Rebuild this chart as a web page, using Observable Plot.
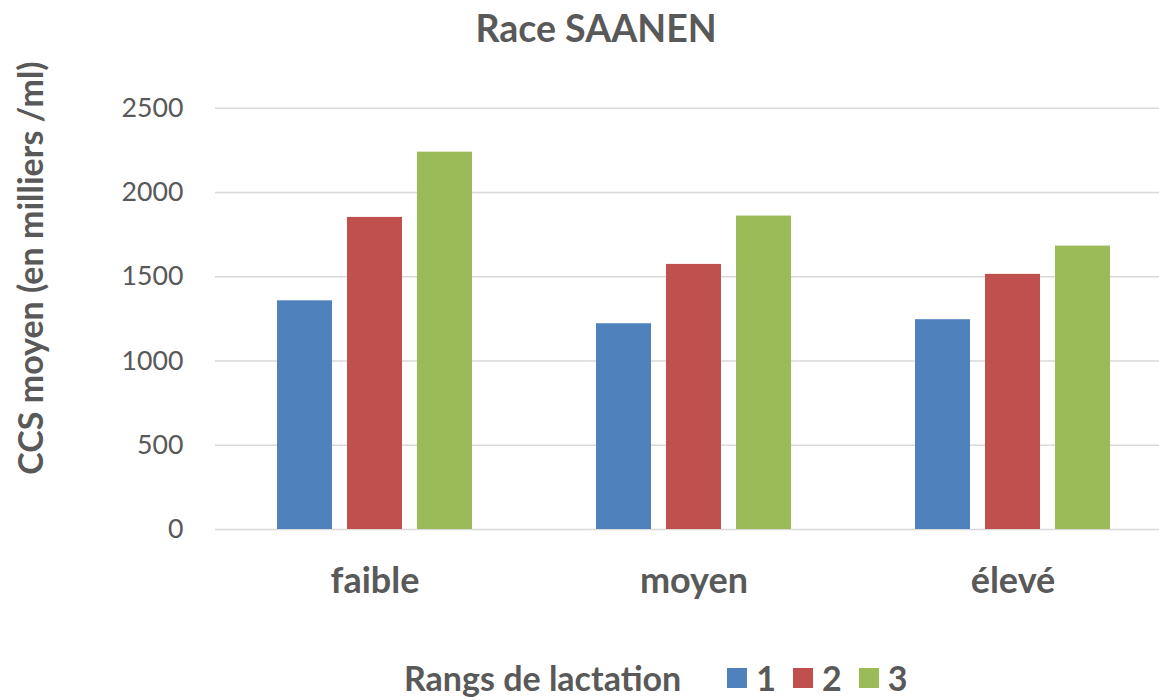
<!DOCTYPE html>
<html><head><meta charset="utf-8">
<script src="https://cdn.jsdelivr.net/npm/d3@7"></script>
<script src="https://cdn.jsdelivr.net/npm/@observablehq/plot@0.6"></script>
<style>
body{margin:0;width:1159px;height:700px;overflow:hidden;background:#fff;position:relative;font-family:Lato,sans-serif;color:#595959}
.abs{position:absolute;white-space:nowrap;line-height:1}
</style></head><body>
<div id="title" class="abs" style="left:596px;top:28px;transform:translate(-50%,-50%);font-size:37.5px;font-weight:bold">Race SAANEN</div>
<div id="ylabel" class="abs" style="left:30px;top:268px;transform:translate(-50%,-50%) rotate(-90deg);font-size:34px;font-weight:bold">CCS moyen (en milliers /ml)</div>
<div id="chart" style="position:absolute;left:0;top:60px"></div>
<div id="legend" class="abs" style="left:404px;top:678px;transform:translateY(-50%);font-size:34px;font-weight:bold;display:flex;align-items:center"></div>
<script>
const categories = ["faible", "moyen", "élevé"];
const ranks = ["1", "2", "3"];
const rank1 = [1357, 1221, 1245];
const rank2 = [1852, 1573, 1514];
const rank3 = [2239, 1860, 1682];
const colors = ["#4F81BD", "#C0504D", "#9BBB59"];
const yTicks = [0, 500, 1000, 1500, 2000, 2500];
const legendTitle = "Rangs de lactation";

const series = [rank1, rank2, rank3];
const data = categories.flatMap((c, i) => ranks.map((r, j) => ({category: c, rank: r, value: series[j][i]})));

const chart = Plot.plot({
  width: 1172, height: 580,
  marginLeft: 215, marginRight: 0, marginTop: 47.7, marginBottom: 111,
  style: {fontFamily: "Lato, sans-serif", color: "#595959", background: "transparent", overflow: "visible", maxWidth: "none"},
  fx: {domain: categories, padding: 0, label: null, axis: "bottom", tickSize: 0, tickPadding: 38},
  x: {domain: ranks, paddingInner: 0.213, paddingOuter: 0.867, axis: null},
  y: {domain: [0, 2500], ticks: yTicks, tickSize: 0, tickPadding: 32, label: null, tickFormat: d => String(d)},
  color: {domain: ranks, range: colors},
  marks: [
    Plot.ruleY(yTicks, {stroke: "#d9d9d9", strokeWidth: 1.5}),
    Plot.barY(data, {fx: "category", x: "rank", y: "value", fill: "rank"})
  ]
});
document.getElementById("chart").appendChild(chart);
const ytickStr = yTicks.map(String);
d3.select(chart).selectAll("text").each(function() {
  const t = this.textContent;
  if (categories.includes(t)) {
    this.style.fontSize = "36px"; this.style.fontWeight = "bold"; this.style.fill = "#595959";
  } else if (ytickStr.includes(t)) {
    this.style.fontSize = "26.7px"; this.style.fill = "#595959";
  }
});

const legend = document.getElementById("legend");
const lt = document.createElement("span");
lt.textContent = legendTitle;
lt.style.marginRight = "46px";
legend.appendChild(lt);
ranks.forEach((r, i) => {
  const sw = document.createElement("span");
  sw.style.cssText = `display:inline-block;width:20px;height:20px;background:${colors[i]};margin-right:9px`;
  legend.appendChild(sw);
  const lab = document.createElement("span");
  lab.textContent = r;
  lab.style.marginRight = i < ranks.length - 1 ? "17px" : "0";
  legend.appendChild(lab);
});
</script>
</body></html>
